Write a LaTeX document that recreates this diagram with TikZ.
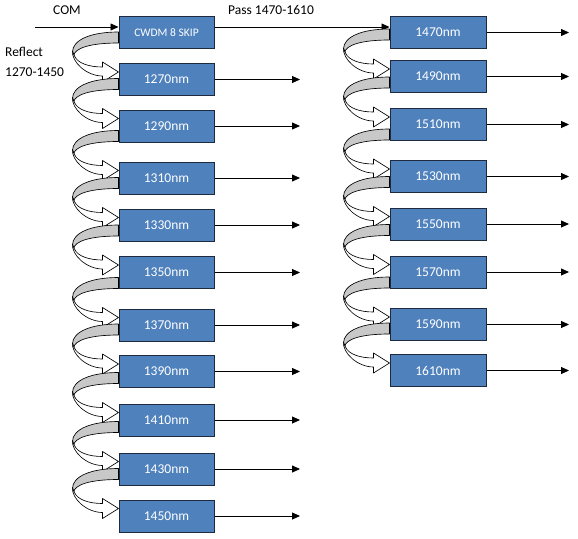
\documentclass[tikz,border=0pt]{standalone}
\usepackage{fontspec}
\setmainfont{Carlito}
\usetikzlibrary{arrows.meta,calc}
\definecolor{boxblue}{HTML}{4F81BD}
\definecolor{boxline}{RGB}{30,42,62}
\definecolor{backgray}{RGB}{200,200,200}
\tikzset{
  box/.style={draw=boxline, fill=boxblue, line width=1pt, minimum width=95, minimum height=32,
    inner sep=0pt, text=white, font=\fontsize{13.5}{16}\selectfont},
  lbl/.style={inner sep=0pt, font=\fontsize{13.5}{16}\selectfont},
  outarr/.style={-{Triangle[length=8pt,width=7pt]}, line width=0.8pt},
  ribbon/.style={draw=black, line width=0.65pt, line join=round},
  carr/.pic={
    \filldraw[ribbon, fill=backgray] (0,-40) .. controls (-28,-40) and (-46,-32) .. (-46,-20)
      -- (-45,-16) .. controls (-44,-24) and (-28,-29) .. (0,-29) -- cycle;
    \filldraw[ribbon, fill=white] (-46,-21) .. controls (-47,-10) and (-32,4) .. (-16,4)
      -- (-16,10) -- (0,0) -- (-16,-10) -- (-16,-5)
      .. controls (-30,-5) and (-41,-9) .. (-44,-16) -- cycle;
  }
}
\begin{document}
\begin{tikzpicture}[x=1pt,y=-1pt]
\useasboundingbox (0,0) rectangle (578,538);
% left column
\node[box, font=\fontsize{11.5}{13}\selectfont] (l0) at (166.5,32.5) {CWDM 8 SKIP};
\foreach \n/\y/\t in {l1/79.5/1270, l2/126/1290, l3/178/1310, l4/225/1330, l5/272.5/1350,
    l6/325/1370, l7/371.5/1390, l8/420/1410, l9/469/1430, l10/516/1450}
  \node[box] (\n) at (166.5,\y) {\t nm};
% right column
\foreach \n/\y/\t in {r1/32.5/1470, r2/76.5/1490, r3/124.5/1510, r4/176.5/1530, r5/224/1550,
    r6/272/1570, r7/324.5/1590, r8/370.5/1610}
  \node[box, minimum width=96] (\n) at (438,\y) {\t nm};
% labels
\node[lbl] (comlbl) at (67,10) {COM};
\node[lbl, anchor=west] (passlbl) at (228,10) {Pass 1470-1610};
\node[lbl, anchor=west] (refl1) at (5,52) {Reflect};
\node[lbl, anchor=west] (refl2) at (5,72) {1270-1450};
% input and pass lines
\coordinate (com) at (35,27);
\coordinate (endL) at (300,0);
\coordinate (endR) at (569,0);
\draw[outarr] (com) -- (com -| l0.west);
\draw[outarr] (l0.east |- com) -- (com -| r1.west);
% outputs
\foreach \n in {l1,l2,l3,l4,l5,l6,l7,l8,l9,l10}
  \draw[outarr] (\n.east) -- (\n.east -| endL);
\foreach \n in {r1,r2,r3,r4,r5,r6,r7,r8}
  \draw[outarr] (\n.east) -- (\n.east -| endR);
% curved reflect arrows
\foreach \b in {l1,l2,l3,l4,l5,l6,l7,l8,l9,l10,r2,r3,r4,r5,r6,r7,r8}
  \pic at ($(\b.north west)+(0,9)$) {carr};
\end{tikzpicture}
\end{document}
